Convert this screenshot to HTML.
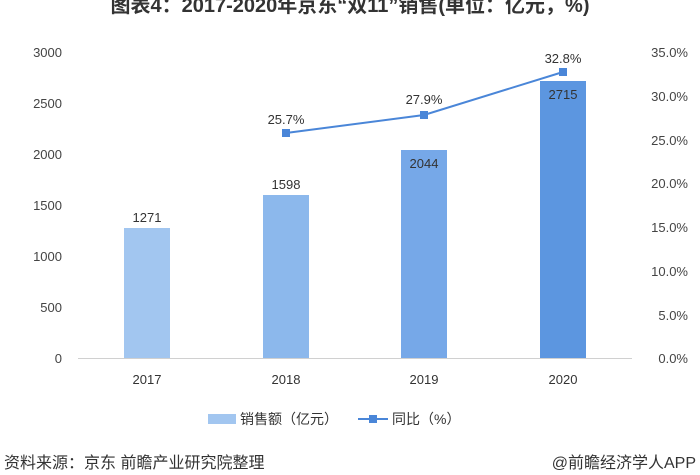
<!DOCTYPE html>
<html><head><meta charset="utf-8"><style>
body{margin:0;background:#fff;}
svg text{font-family:"Liberation Sans","Noto Sans CJK SC",sans-serif;}
</style></head><body>
<svg width="700" height="470" xmlns="http://www.w3.org/2000/svg">
<text x="350" y="12" text-anchor="middle" font-size="20" font-weight="bold" fill="#333">图表4：2017-2020年京东“双11”销售(单位：亿元，%)</text>
<g font-size="13" fill="#444" text-anchor="end">
<text x="62" y="57">3000</text><text x="62" y="108">2500</text><text x="62" y="159">2000</text><text x="62" y="210">1500</text><text x="62" y="261">1000</text><text x="62" y="312">500</text><text x="62" y="363">0</text>
</g>
<g font-size="13" fill="#444" text-anchor="end">
<text x="688" y="57">35.0%</text><text x="688" y="101">30.0%</text><text x="688" y="145">25.0%</text><text x="688" y="188">20.0%</text><text x="688" y="232">15.0%</text><text x="688" y="276">10.0%</text><text x="688" y="320">5.0%</text><text x="688" y="363">0.0%</text>
</g>
<line x1="78" y1="358.5" x2="632" y2="358.5" stroke="#d0d0d0"/>
<rect x="124" y="228" width="46" height="130" fill="#a2c6f0"/>
<rect x="263" y="195" width="46" height="163" fill="#8cb8ec"/>
<rect x="401" y="150" width="46" height="208" fill="#76a8e8"/>
<rect x="540" y="81" width="46" height="277" fill="#5c96e0"/>
<g font-size="13" fill="#333" text-anchor="middle">
<text x="147" y="222">1271</text><text x="286" y="189">1598</text><text x="424" y="168">2044</text><text x="563" y="99">2715</text>
<text x="286" y="124">25.7%</text><text x="424" y="104">27.9%</text><text x="563" y="63">32.8%</text>
<text x="147" y="384">2017</text><text x="286" y="384">2018</text><text x="424" y="384">2019</text><text x="563" y="384">2020</text>
</g>
<polyline points="286,133 424,115 563,72" fill="none" stroke="#4a86d8" stroke-width="2"/>
<rect x="282" y="129" width="8" height="8" fill="#4a86d8"/><rect x="420" y="111" width="8" height="8" fill="#4a86d8"/><rect x="559" y="68" width="8" height="8" fill="#4a86d8"/>
<rect x="208" y="414" width="28" height="10" fill="#a2c6f0"/>
<text x="240" y="424" font-size="14" fill="#333">销售额（亿元）</text>
<line x1="358" y1="419" x2="388" y2="419" stroke="#4a86d8" stroke-width="2"/>
<rect x="369" y="415" width="8" height="8" fill="#4a86d8"/>
<text x="392" y="424" font-size="14" fill="#333">同比（%）</text>
<text x="4" y="468" font-size="16" fill="#333">资料来源：京东 前瞻产业研究院整理</text>
<text x="696" y="468" font-size="16" fill="#333" text-anchor="end">@前瞻经济学人APP</text>
</svg>
</body></html>
